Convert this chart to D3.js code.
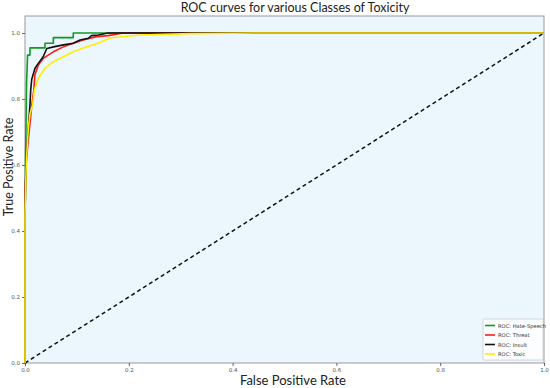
<html>
<head>
<script src="https://d3js.org/d3.v7.min.js"></script>
<style>
  body { margin: 0; background: white; }
  .tick text { font: 5.5px "DejaVu Sans", sans-serif; fill: #555; }
  .lbl { font-family: Lato, "Open Sans", sans-serif; fill: #222; }
</style>
</head>
<body>
<svg width="550" height="388"></svg>
<script>
// ROC curve points
var classes = ["Hate-Speech", "Threat", "Insult", "Toxic"];
var colors = ["#109a22", "#ff1a1a", "#111111", "#ffee00"];

var hateFpr = [0, 0, 0.001, 0.003, 0.005, 0.0096, 0.0096, 0.0385, 0.0385, 0.0546, 0.0546, 0.093, 0.093, 1];
var hateTpr = [0, 0.35, 0.6, 0.85, 0.933, 0.933, 0.955, 0.955, 0.969, 0.969, 0.986, 0.986, 1, 1];

var threatFpr = [0, 0, 0.003, 0.0064, 0.013, 0.017, 0.019, 0.0257, 0.035, 0.0546, 0.074, 0.093, 0.112, 0.138, 0.16, 0.189, 1];
var threatTpr = [0, 0.52, 0.624, 0.676, 0.78, 0.827, 0.873, 0.903, 0.923, 0.943, 0.958, 0.969, 0.979, 0.989, 0.992, 1, 1];

var insultFpr = [0, 0, 0.002, 0.004, 0.0096, 0.011, 0.013, 0.0193, 0.0257, 0.035, 0.042, 0.055, 0.074, 0.093, 0.106, 0.122, 0.128, 0.141, 0.16, 1];
var insultTpr = [0, 0.45, 0.6, 0.66, 0.782, 0.827, 0.86, 0.893, 0.908, 0.928, 0.953, 0.958, 0.964, 0.969, 0.979, 0.984, 0.992, 0.994, 1, 1];

var toxicFpr = [0, 0, 0.002, 0.003, 0.0064, 0.0096, 0.0148, 0.018, 0.0257, 0.0385, 0.0546, 0.074, 0.093, 0.119, 0.141, 0.164, 0.222, 0.318, 0.45, 1];
var toxicTpr = [0, 0.45, 0.58, 0.624, 0.71, 0.755, 0.782, 0.827, 0.863, 0.893, 0.913, 0.928, 0.943, 0.958, 0.969, 0.985, 0.994, 0.998, 1, 1];

var xTicks = [0, 0.2, 0.4, 0.6, 0.8, 1.0];
var yTicks = [0, 0.2, 0.4, 0.6, 0.8, 1.0];

var pLeft = 25, pRight = 544, pTop = 16, pBottom = 363;
var svg = d3.select("svg");

var xs = d3.scaleLinear().domain([0, 1]).range([pLeft, pRight]);
var ys = d3.scaleLinear().domain([0, 1.0515]).range([pBottom, pTop]);

svg.append("rect")
  .attr("x", pLeft).attr("y", pTop)
  .attr("width", pRight - pLeft).attr("height", pBottom - pTop)
  .attr("fill", "#ebf6fd")
  .attr("stroke", "#9a9a9a").attr("stroke-width", 1);

svg.append("g").attr("transform", "translate(0," + pBottom + ")")
  .call(d3.axisBottom(xs).tickValues(xTicks).tickFormat(d3.format(".1f")).tickSize(3).tickPadding(2))
  .call(g => g.select(".domain").remove())
  .call(g => g.selectAll("line").attr("stroke", "#666"));

svg.append("g").attr("transform", "translate(" + pLeft + ",0)")
  .call(d3.axisLeft(ys).tickValues(yTicks).tickFormat(d3.format(".1f")).tickSize(3).tickPadding(2))
  .call(g => g.select(".domain").remove())
  .call(g => g.selectAll("line").attr("stroke", "#666"));

var line = d3.line().x(d => xs(d[0])).y(d => ys(d[1]));

// diagonal reference
svg.append("path")
  .attr("d", line([[0, 0], [1, 1]]))
  .attr("fill", "none").attr("stroke", "#111")
  .attr("stroke-width", 1.5).attr("stroke-dasharray", "4,3");

var series = [
  d3.zip(hateFpr, hateTpr),
  d3.zip(threatFpr, threatTpr),
  d3.zip(insultFpr, insultTpr),
  d3.zip(toxicFpr, toxicTpr)
];

series.forEach(function(s, i) {
  svg.append("path")
    .attr("d", line(s))
    .attr("fill", "none")
    .attr("stroke", colors[i])
    .attr("stroke-width", 1.6)
    .attr("stroke-linejoin", "round");
});

// legend
var lg = svg.append("g").attr("transform", "translate(483,319)");
lg.append("rect").attr("width", 60).attr("height", 41)
  .attr("fill", "white").attr("fill-opacity", 0.8)
  .attr("stroke", "#ccc").attr("stroke-width", 0.8).attr("rx", 1.5);
classes.forEach(function(c, i) {
  var y = 6.5 + i * 9.5;
  lg.append("line").attr("x1", 2).attr("x2", 12).attr("y1", y).attr("y2", y)
    .attr("stroke", colors[i]).attr("stroke-width", 1.6);
  lg.append("text").attr("x", 15).attr("y", y + 2)
    .attr("font-family", "DejaVu Sans, sans-serif").attr("font-size", 5.2)
    .attr("fill", "#333").text("ROC: " + c);
});

svg.append("text").attr("class", "lbl")
  .attr("x", 295).attr("y", 12).attr("text-anchor", "middle")
  .attr("font-size", 12.5).text("ROC curves for various Classes of Toxicity");

svg.append("text").attr("class", "lbl")
  .attr("x", 293).attr("y", 385).attr("text-anchor", "middle")
  .attr("font-size", 13).text("False Positive Rate");

svg.append("text").attr("class", "lbl")
  .attr("transform", "rotate(-90)")
  .attr("x", -167).attr("y", 12.5).attr("text-anchor", "middle")
  .attr("font-size", 12.5).text("True Positive Rate");
</script>
</body>
</html>
